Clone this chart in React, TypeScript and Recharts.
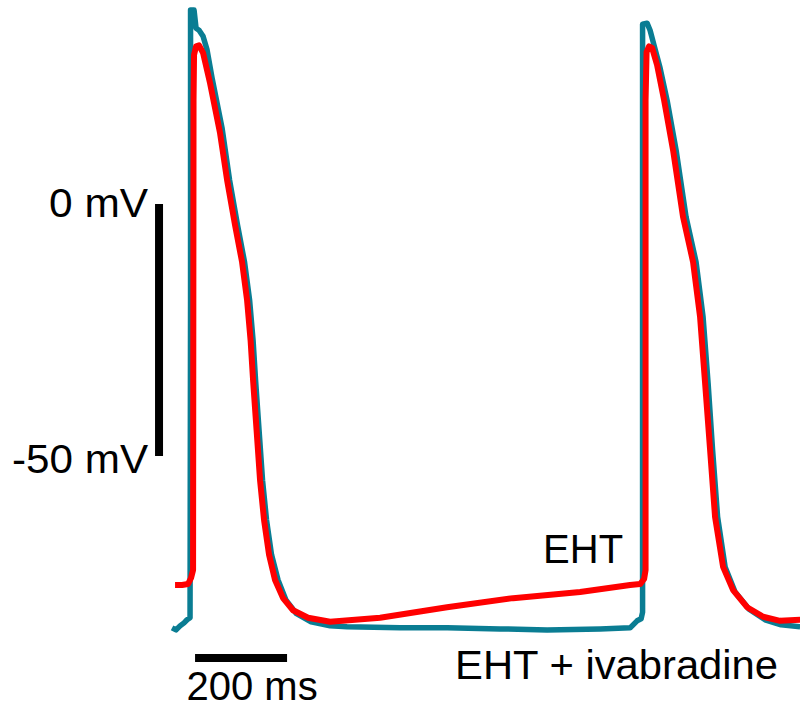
import React from "react";
import { LineChart, Line, XAxis, YAxis, ReferenceLine, ReferenceDot } from "recharts";

// EHT (red) trace: time in ms, membrane potential in mV
const ehtTime = [-43.5, -28.3, -15.2, -8.7, -4.3, -3.3, -2.2, 2.2, 8.7, 17.4, 32.6, 54.3, 69.6, 87.0, 102.2, 113.0, 120.7, 126.1, 133.7, 141.3, 150.0, 160.9, 173.9, 191.3, 213.0, 245.7, 293.5, 402.2, 547.8, 691.3, 837.0, 945.7, 967.4, 976.1, 979.3, 979.3, 981.5, 987.0, 993.5, 1004.3, 1019.6, 1039.1, 1060.9, 1082.6, 1097.8, 1108.7, 1119.6, 1130.4, 1147.8, 1169.6, 1200.0, 1234.8, 1271.7, 1315.2];
const ehtMv = [-75.6, -75.6, -75.4, -74.2, -72.6, 20.6, 29.6, 31.3, 31.5, 30.0, 24.0, 14.1, 4.8, -4.2, -11.5, -19.0, -27.0, -34.9, -44.8, -54.8, -62.7, -69.6, -74.6, -78.2, -80.6, -82.1, -82.9, -82.1, -80.0, -78.2, -77.0, -75.6, -75.4, -74.4, -72.6, 20.6, 30.2, 31.3, 31.0, 27.6, 20.6, 10.7, -2.6, -11.5, -22.4, -35.5, -48.8, -62.1, -72.0, -76.6, -80.0, -81.9, -82.7, -82.5];

// EHT + ivabradine (teal) trace
const ivaTime = [-50.0, -41.3, -32.6, -23.9, -17.4, -10.9, -9.8, -9.8, -2.2, 2.2, 8.7, 17.4, 26.1, 37.0, 58.7, 75.0, 92.4, 107.6, 118.5, 126.1, 131.5, 139.1, 146.7, 155.4, 166.3, 180.4, 197.8, 219.6, 252.2, 293.5, 330.4, 445.7, 547.8, 663.0, 765.2, 880.4, 945.7, 960.9, 969.6, 972.8, 972.8, 982.6, 989.1, 997.8, 1010.9, 1026.1, 1045.7, 1067.4, 1089.1, 1104.3, 1115.2, 1125.0, 1135.9, 1152.2, 1173.9, 1204.3, 1239.1, 1273.9, 1315.2];
const ivaMv = [-84.1, -84.5, -83.7, -83.1, -82.5, -82.1, -19.0, 38.5, 38.5, 34.9, 34.5, 33.3, 30.6, 25.0, 15.1, 4.8, -4.2, -11.5, -19.0, -27.0, -34.9, -44.8, -54.8, -62.7, -69.6, -74.6, -78.6, -81.2, -82.9, -83.7, -83.9, -84.1, -84.1, -84.3, -84.5, -84.3, -84.1, -82.7, -82.3, -81.0, 35.7, 35.9, 34.5, 31.5, 27.0, 20.6, 10.7, -2.6, -11.5, -22.4, -35.5, -48.8, -62.1, -72.0, -77.0, -80.4, -82.5, -83.5, -83.9];

// scale bars
const voltBarTime = -78.3;
const voltBarMv = [0, -50];
const timeBarMv = -90.1;
const timeBarMs = [0, 200];

// labels
const labelText = ["0 mV", "-50 mV", "EHT", "EHT + ivabradine", "200 ms"];
const labelTime = [-102.2, -102.2, 756.5, 565.2, 123.9];
const labelMv = [-2.6, -53.4, -71.2, -94.2, -98.4];
const labelAnchor = ["end", "end", "start", "start", "middle"];
const labelLength = [99, 136, 0, 323, 0];

const ehtData = ehtTime.map((t, i) => ({ t, v: ehtMv[i] }));
const ivaData = ivaTime.map((t, i) => ({ t, v: ivaMv[i] }));

const FONT = "'Liberation Sans', Arial, Helvetica, sans-serif";

export default function App() {
  return (
    <div style={{ position: "absolute", left: 0, top: 0, width: 800, height: 709, background: "#fff" }}>
      <LineChart width={800} height={709} margin={{ top: 0, right: 0, bottom: 0, left: 0 }}>
        <XAxis type="number" dataKey="t" domain={[-424, 1315]} allowDataOverflow hide />
        <YAxis type="number" dataKey="v" domain={[-100.2, 40.5]} allowDataOverflow hide />
        <Line
          data={ivaData}
          dataKey="v"
          type="linear"
          stroke="#0a7d93"
          strokeWidth={5.5}
          strokeLinejoin="round"
          dot={false}
          activeDot={false}
          isAnimationActive={false}
        />
        <Line
          data={ehtData}
          dataKey="v"
          type="linear"
          stroke="#ff0000"
          strokeWidth={6}
          strokeLinejoin="round"
          dot={false}
          activeDot={false}
          isAnimationActive={false}
        />
        <ReferenceLine
          segment={[{ x: voltBarTime, y: voltBarMv[0] }, { x: voltBarTime, y: voltBarMv[1] }]}
          stroke="#000"
          strokeWidth={8}
          ifOverflow="visible"
        />
        <ReferenceLine
          segment={[{ x: timeBarMs[0], y: timeBarMv }, { x: timeBarMs[1], y: timeBarMv }]}
          stroke="#000"
          strokeWidth={8}
          ifOverflow="visible"
        />
        {labelText.map((txt, i) => (
          <ReferenceDot
            key={txt}
            x={labelTime[i]}
            y={labelMv[i]}
            r={1}
            fill="none"
            stroke="none"
            ifOverflow="visible"
            label={(p: any) => {
              const vb = p.viewBox || {};
              const cx = (vb.x ?? 0) + (vb.width ?? 0) / 2;
              const cy = (vb.y ?? 0) + (vb.height ?? 0) / 2;
              const extra: any = labelLength[i] ? { textLength: labelLength[i], lengthAdjust: "spacingAndGlyphs" } : {};
              return (
                <text x={cx} y={cy} textAnchor={labelAnchor[i] as any} fontSize={40} fontFamily={FONT} fill="#000" {...extra}>
                  {txt}
                </text>
              );
            }}
          />
        ))}
      </LineChart>
    </div>
  );
}
